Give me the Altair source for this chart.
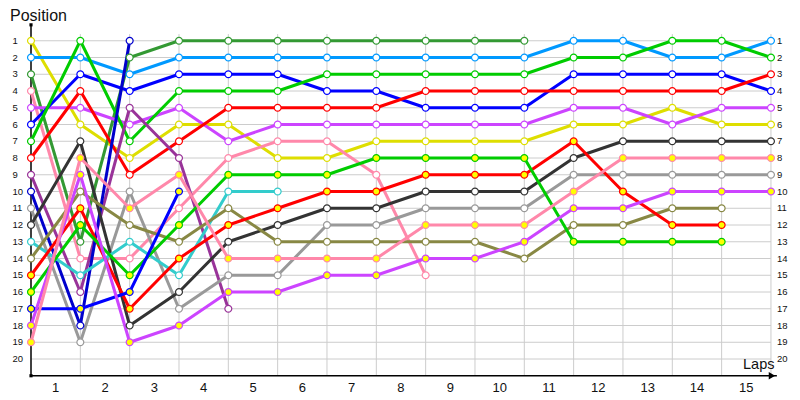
import altair as alt
import pandas as pd

# ---- data (positions per lap, lap 0 = grid) ----
drivers = ["YEL", "LBL", "DGR", "PNK", "MAG", "BLU", "GRN", "RED", "PUR", "NAV",
           "GRY", "BLK", "CYN", "OLV", "RED2", "GRN2", "BLU2", "MAG2", "PNK2"]
colors = ["#dede00", "#0099ff", "#339933", "#ff88aa", "#cc44ff", "#0000ff", "#00cc00",
          "#ff0000", "#993399", "#0000cc", "#999999", "#333333", "#33cccc", "#888844",
          "#ff0000", "#00cc00", "#0000ff", "#cc44ff", "#ff88aa"]
fills = ["white"] * 14 + ["#ffff00"] * 5

YEL = [1, 6, 8, 6, 6, 8, 8, 7, 7, 7, 7, 6, 6, 5, 6, 6]
LBL = [2, 2, 3, 2, 2, 2, 2, 2, 2, 2, 2, 1, 1, 2, 2, 1]
DGR = [3, 13, 2, 1, 1, 1, 1, 1, 1, 1, 1]
PNK = [4, 14, 14, 11, 8, 7, 7, 9, 15]
MAG = [5, 5, 6, 5, 7, 6, 6, 6, 6, 6, 6, 5, 5, 6, 5, 5]
BLU = [6, 3, 4, 3, 3, 3, 4, 4, 5, 5, 5, 3, 3, 3, 3, 4]
GRN = [7, 1, 7, 4, 4, 4, 3, 3, 3, 3, 3, 2, 2, 1, 1, 2]
RED = [8, 4, 9, 7, 5, 5, 5, 5, 4, 4, 4, 4, 4, 4, 4, 3]
PUR = [9, 16, 5, 8, 17]
NAV = [10, 18, 1]
GRY = [11, 19, 10, 17, 15, 15, 12, 12, 11, 11, 11, 9, 9, 9, 9, 9]
BLK = [12, 7, 18, 16, 13, 12, 11, 11, 10, 10, 10, 8, 7, 7, 7, 7]
CYN = [13, 15, 13, 15, 10, 10]
OLV = [14, 10, 12, 13, 11, 13, 13, 13, 13, 13, 14, 12, 12, 11, 11]
RED2 = [15, 11, 17, 14, 12, 11, 10, 10, 9, 9, 9, 7, 10, 12, 12]
GRN2 = [16, 12, 15, 12, 9, 9, 9, 8, 8, 8, 8, 13, 13, 13, 13]
BLU2 = [17, 17, 16, 10]
MAG2 = [18, 9, 19, 18, 16, 16, 15, 15, 14, 14, 13, 11, 11, 10, 10, 10]
PNK2 = [19, 8, 11, 9, 14, 14, 14, 14, 12, 12, 12, 10, 8, 8, 8, 8]

series = [YEL, LBL, DGR, PNK, MAG, BLU, GRN, RED, PUR, NAV,
          GRY, BLK, CYN, OLV, RED2, GRN2, BLU2, MAG2, PNK2]

pos_labels = list(range(1, 21))
lap_labels = list(range(1, 16))

rows = []
for name, pos in zip(drivers, series):
    for lap, p in enumerate(pos):
        rows.append({"driver": name, "lap": lap, "pos": p})
df = pd.DataFrame(rows)

xscale = alt.Scale(domain=[0, 15.386], nice=False, zero=False)
yscale = alt.Scale(domain=[0, 21], reverse=True, nice=False, zero=False)

def X(f):
    return alt.X(f, scale=xscale, axis=None)

def Y(f):
    return alt.Y(f, scale=yscale, axis=None)

hgrid = pd.DataFrame({"pos": pos_labels, "x0": 0, "x1": 15})
vgrid = pd.DataFrame({"lap": lap_labels, "y0": 0.6, "y1": 21})

hg = alt.Chart(hgrid).mark_rule(color="#cccccc", strokeWidth=1).encode(
    x=X("x0:Q"), x2="x1:Q", y=Y("pos:Q"))
vg = alt.Chart(vgrid).mark_rule(color="#cccccc", strokeWidth=1).encode(
    x=X("lap:Q"), y=Y("y0:Q"), y2="y1:Q")

axl = pd.DataFrame({"x0": [0, 0], "x1": [0, 15.12], "y0": [0.05, 21], "y1": [21, 21]})
axes = alt.Chart(axl).mark_rule(color="black", strokeWidth=1.5).encode(
    x=X("x0:Q"), x2="x1:Q", y=Y("y0:Q"), y2="y1:Q")

arrow = alt.Chart(pd.DataFrame({"lap": [15.02], "pos": [21]})).mark_point(
    shape="triangle-right", filled=True, color="black", size=55, opacity=1).encode(
    x=X("lap:Q"), y=Y("pos:Q"))
dots = alt.Chart(pd.DataFrame({"lap": [0, 0], "pos": [0.05, 21]})).mark_point(
    shape="square", filled=True, color="black", size=10, opacity=1).encode(
    x=X("lap:Q"), y=Y("pos:Q"))

lines = alt.Chart(df).mark_line(strokeWidth=3, strokeJoin="round").encode(
    x=X("lap:Q"), y=Y("pos:Q"),
    color=alt.Color("driver:N", scale=alt.Scale(domain=drivers, range=colors), legend=None),
    order="lap:Q")

points = alt.Chart(df).mark_point(shape="circle", filled=True, size=48,
                                  strokeWidth=1.2, opacity=1).encode(
    x=X("lap:Q"), y=Y("pos:Q"),
    fill=alt.Fill("driver:N", scale=alt.Scale(domain=drivers, range=fills), legend=None),
    stroke=alt.Stroke("driver:N", scale=alt.Scale(domain=drivers, range=colors), legend=None))

ylab = pd.DataFrame({"pos": pos_labels, "x": 0, "xr": 15})
left_lab = alt.Chart(ylab).mark_text(align="left", baseline="middle", fontSize=9.5,
                                     font="Liberation Sans", color="#111", dx=-18.5).encode(
    x=X("x:Q"), y=Y("pos:Q"), text="pos:N")
right_lab = alt.Chart(ylab).mark_text(align="left", baseline="middle", fontSize=9.5,
                                      font="Liberation Sans", color="#111", dx=6).encode(
    x=X("xr:Q"), y=Y("pos:Q"), text="pos:N")

xlab = pd.DataFrame({"lap": lap_labels, "mid": [l - 0.5 for l in lap_labels], "y": 21})
bottom_lab = alt.Chart(xlab).mark_text(align="center", baseline="middle", fontSize=13,
                                       font="Liberation Sans", color="#111", dy=12.5).encode(
    x=X("mid:Q"), y=Y("y:Q"), text="lap:N")

titles = pd.DataFrame({"t": ["Position"]})
ttl_pos = alt.Chart(titles).mark_text(align="left", baseline="alphabetic", fontSize=16,
                                      font="Liberation Sans", color="#111").encode(
    x=alt.value(-21), y=alt.value(-3), text="t:N")
ttl_laps = alt.Chart(pd.DataFrame({"t": ["Laps"]})).mark_text(
    align="left", baseline="alphabetic", fontSize=14.5,
    font="Liberation Sans", color="#111").encode(
    x=alt.value(712), y=alt.value(345), text="t:N")

chart = alt.layer(hg, vg, axes, lines, points, arrow, dots, left_lab, right_lab,
                  bottom_lab, ttl_pos, ttl_laps).properties(
    width=759, height=351.75,
    padding={"left": 23, "top": 16, "right": 2, "bottom": 22},
    autosize=alt.AutoSizeParams(type="none"),
    background="white",
).configure_view(stroke=None)

chart.save("out.html", embed_options={"renderer": "svg", "actions": False})
